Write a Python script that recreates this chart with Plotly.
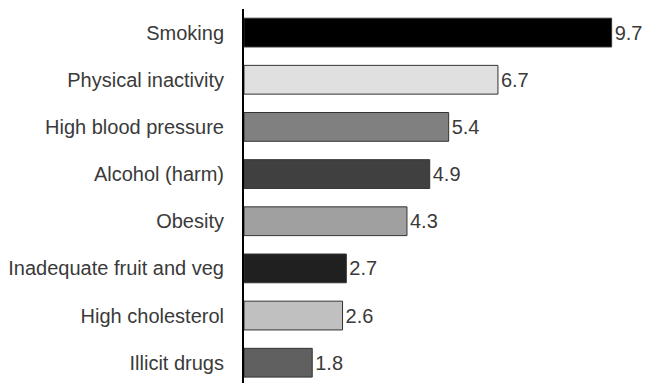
import plotly.graph_objects as go

categories = ["Smoking", "Physical inactivity", "High blood pressure", "Alcohol (harm)",
              "Obesity", "Inadequate fruit and veg", "High cholesterol", "Illicit drugs"]
values = [9.7, 6.7, 5.4, 4.9, 4.3, 2.7, 2.6, 1.8]
bar_colors = ["#000000", "#e0e0e0", "#808080", "#404040", "#a0a0a0", "#202020", "#c0c0c0", "#606060"]

fig = go.Figure(go.Bar(
    y=categories, x=values, orientation="h",
    marker=dict(color=bar_colors, line=dict(color="#333333", width=1)),
    width=0.61,
    text=[f"{v:.1f}" for v in values], textposition="outside",
    textfont=dict(size=20, color="#3a3a3a", family="Liberation Sans"),
    cliponaxis=False,
))

fig.update_layout(
    width=645, height=383,
    margin=dict(l=244, r=0, t=9, b=0),
    paper_bgcolor="white", plot_bgcolor="white",
    showlegend=False,
    font=dict(family="Liberation Sans", size=20, color="#3a3a3a"),
    uniformtext=dict(minsize=20, mode="show"),
    xaxis=dict(range=[0, 10.58], visible=False, showgrid=False, zeroline=False),
    yaxis=dict(type="category", categoryorder="array", categoryarray=categories,
               range=[7.43, -0.5], showgrid=False, zeroline=False,
               showline=True, linecolor="#000000", linewidth=2,
               ticks="", ticklabelstandoff=14,
               tickfont=dict(size=20, color="#3a3a3a", family="Liberation Sans")),
)

fig.write_html("out.html")
